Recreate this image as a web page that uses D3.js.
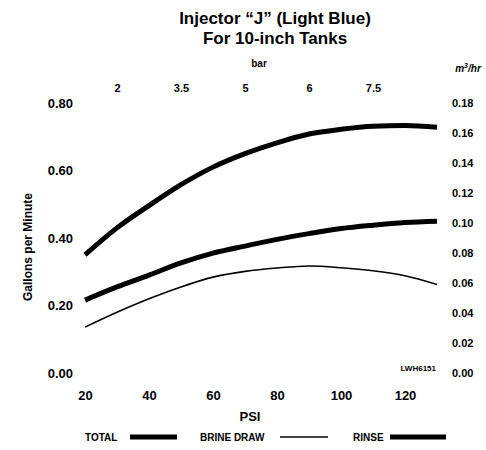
<!DOCTYPE html>
<meta charset="utf-8">
<style>
body { margin: 0; background: #fff; }
text { font-family: "Liberation Sans", Arial, sans-serif; fill: #000; }
</style>
<body>
<script src="https://d3js.org/d3.v7.min.js"></script>
<script>

// chart data
var psi = [20, 30, 40, 50, 60, 70, 80, 90, 100, 110, 120, 130];
var total = [0.350, 0.430, 0.496, 0.558, 0.610, 0.650, 0.682, 0.708, 0.722, 0.731, 0.733, 0.728];
var rinse = [0.216, 0.255, 0.290, 0.326, 0.355, 0.376, 0.396, 0.413, 0.428, 0.438, 0.446, 0.450];
var brine = [0.136, 0.180, 0.220, 0.255, 0.284, 0.301, 0.311, 0.317, 0.312, 0.303, 0.288, 0.262];

var psiTicks = [20, 40, 60, 80, 100, 120];
var gpmTicks = [0, 0.2, 0.4, 0.6, 0.8];
var m3Ticks = [0, 0.02, 0.04, 0.06, 0.08, 0.10, 0.12, 0.14, 0.16, 0.18];
var barLabels = ["2", "3.5", "5", "6", "7.5"];
var barPsi = [30, 50, 70, 90, 110];

var width = 486, height = 450;

var svg = d3.select("body").append("svg")
    .attr("width", width)
    .attr("height", height);

// scales
var x = d3.scaleLinear().domain([20, 130]).range([85, 437]);
var y = d3.scaleLinear().domain([0, 0.8]).range([373, 103]);
var y2 = d3.scaleLinear().domain([0, 0.18]).range([373, 103]);

// title
svg.append("text").attr("x", 275).attr("y", 24)
    .attr("text-anchor", "middle").style("font-size", "17px").style("font-weight", "bold")
    .text("Injector \u201cJ\u201d (Light Blue)");
svg.append("text").attr("x", 275).attr("y", 44)
    .attr("text-anchor", "middle").style("font-size", "17px").style("font-weight", "bold")
    .text("For 10-inch Tanks");

// axes (labels only)
function clean(g, size) {
  g.select(".domain").remove();
  g.selectAll("line").remove();
  g.selectAll("text").style("font-size", size).style("font-weight", "bold")
    .style("font-family", "'Liberation Sans', Arial, sans-serif");
}

svg.append("g")
    .attr("transform", "translate(0,373)")
    .call(d3.axisBottom(x).tickValues(psiTicks).tickSize(0).tickPadding(18))
    .call(clean, "13px");

svg.append("g")
    .attr("transform", "translate(73,0)")
    .call(d3.axisLeft(y).tickValues(gpmTicks).tickFormat(d3.format(".2f")).tickSize(0).tickPadding(0))
    .call(clean, "13px");

svg.append("g")
    .attr("transform", "translate(452,0)")
    .call(d3.axisRight(y2).tickValues(m3Ticks).tickFormat(d3.format(".2f")).tickSize(0).tickPadding(0))
    .call(clean, "11px");

svg.append("g")
    .attr("transform", "translate(0,92)")
    .call(d3.axisTop(x).tickValues(barPsi).tickFormat(function(d, i) { return barLabels[i]; }).tickSize(0).tickPadding(0))
    .call(clean, "11px");

// axis titles
svg.append("text").attr("x", 259).attr("y", 67)
    .attr("text-anchor", "middle").style("font-size", "10px").style("font-weight", "bold")
    .text("bar");
var m3 = svg.append("text").attr("x", 468).attr("y", 72)
    .attr("text-anchor", "middle").style("font-size", "10px").style("font-weight", "bold")
    .style("font-style", "italic");
m3.append("tspan").text("m");
m3.append("tspan").attr("dy", -4).style("font-size", "7px").text("3");
m3.append("tspan").attr("dy", 4).text("/hr");

svg.append("text")
    .attr("text-anchor", "middle")
    .attr("transform", "translate(32,247)rotate(-90)")
    .style("font-size", "12px").style("font-weight", "bold")
    .text("Gallons per  Minute");

svg.append("text").attr("x", 250).attr("y", 421)
    .attr("text-anchor", "middle").style("font-size", "13px").style("font-weight", "bold")
    .text("PSI");

svg.append("text").attr("x", 436).attr("y", 371)
    .attr("text-anchor", "end").style("font-size", "8px").style("font-weight", "bold")
    .text("LWH6151");

// curves
var series = [
  {name: "TOTAL", values: total, w: 5},
  {name: "BRINE DRAW", values: brine, w: 1.6},
  {name: "RINSE", values: rinse, w: 5}
];

var line = d3.line()
    .x(function(d) { return x(d[0]); })
    .y(function(d) { return y(d[1]); })
    .curve(d3.curveMonotoneX);

svg.selectAll(".curve")
    .data(series)
  .enter().append("path")
    .attr("class", "curve")
    .attr("fill", "none")
    .attr("stroke", "#000")
    .attr("stroke-width", function(d) { return d.w; })
    .attr("d", function(d) { return line(psi.map(function(p, i) { return [p, d.values[i]]; })); });

// legend
var legendX = [[85, 130, 177], [200, 280, 328], [353, 390, 446]];
series.forEach(function(s, i) {
  svg.append("text").attr("x", legendX[i][0]).attr("y", 441)
      .style("font-size", "10px").style("font-weight", "bold")
      .text(s.name);
  svg.append("line")
      .attr("x1", legendX[i][1]).attr("x2", legendX[i][2])
      .attr("y1", 437).attr("y2", 437)
      .attr("stroke", "#000").attr("stroke-width", s.w);
});

</script>
</body>
